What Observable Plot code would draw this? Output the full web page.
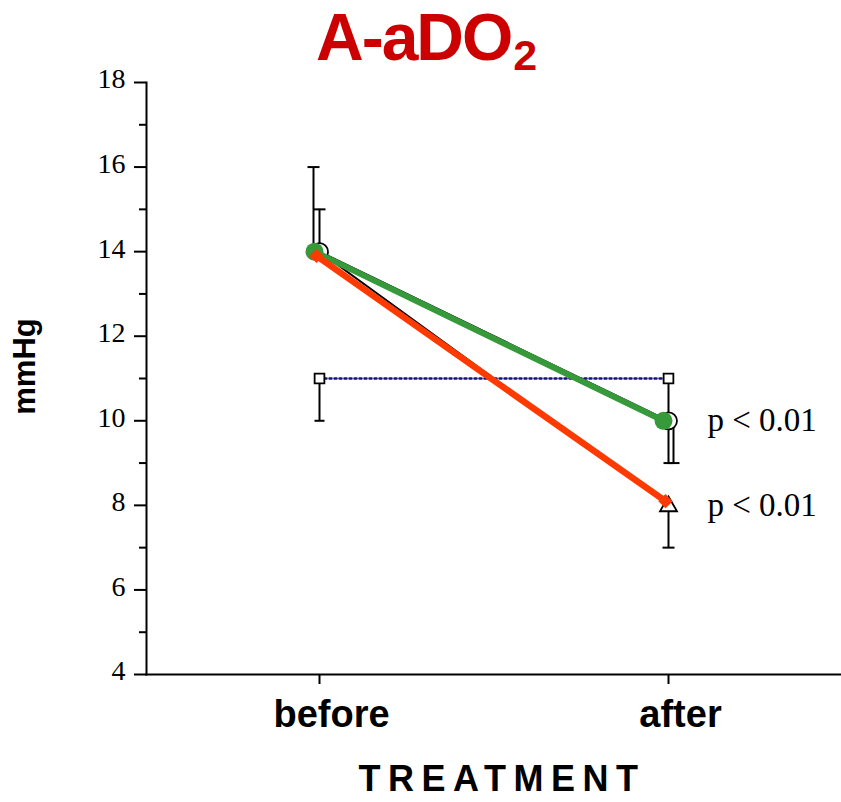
<!DOCTYPE html>
<html>
<head>
<meta charset="utf-8">
<script src="https://cdn.jsdelivr.net/npm/d3@7"></script>
<script src="https://cdn.jsdelivr.net/npm/@observablehq/plot@0.6"></script>
<style>
  html, body { margin: 0; padding: 0; background: white; }
  #wrap { position: relative; width: 841px; height: 802px; overflow: hidden; }
  #title { position: absolute; left: 316px; top: 4px; font-family: "Liberation Sans", Arial, sans-serif;
           font-weight: bold; font-size: 66px; line-height: 66px; color: #cc0000; letter-spacing: -2px; white-space: nowrap; }
  #title span { font-size: 43px; vertical-align: -10px; letter-spacing: 0; margin-left: 2px; }
  #chart { position: absolute; left: 0; top: 0; }
</style>
</head>
<body>
<div id="wrap">
  <div id="chart"></div>
  <div id="title">A-aDO<span>2</span></div>
</div>
<script>
// ---- data ----
const treatment = ["before", "after"];
const filledCircle = [14.0, 10.0];   // green filled circles
const diamond = [13.9, 8.1];          // red diamonds
const openCircle = [14.0, 10.0];      // open circles
const openTriangle = [14.0, 8.0];     // open triangles
const openSquare = [11.0, 11.0];      // open squares (dotted line)
// error bar ends (null = none)
const filledCircleErr = [16, null];
const openCircleErr = [15, 9];
const openTriangleErr = [null, 7];
const openSquareErr = [10, 9];
const pLabels = ["p < 0.01", "p < 0.01"];
const pLabelY = [10, 8];
const yMajor = [4, 6, 8, 10, 12, 14, 16, 18];
const yMinor = [5, 7, 9, 11, 13, 15, 17];

const rows = (vals, err) => treatment.map((t, i) => ({t, v: vals[i], e: err ? err[i] : null}));
const errRows = (vals, err) => rows(vals, err).filter(d => d.e != null);

const GREEN = "#36993a", RED = "#ff3a00", NAVY = "#12127a";
const serif = "'Liberation Serif', 'Times New Roman', serif";
const sans = "'Liberation Sans', Arial, sans-serif";

// horizontal-line symbol for error bar caps
const capSymbol = {
  draw(context, size) {
    const w = Math.sqrt(size / Math.PI);
    context.moveTo(-w, 0);
    context.lineTo(w, 0);
  }
};

function errMarks(data, dx, cap = 6) {
  return [
    Plot.ruleX(data, {x: "t", y1: "v", y2: "e", stroke: "black", strokeWidth: 2, dx}),
    Plot.dot(data, {x: "t", y: "e", symbol: capSymbol, r: cap, fill: "none", stroke: "black", strokeWidth: 2, dx})
  ];
}

const ocErr = errRows(openCircle, openCircleErr);

const chart = Plot.plot({
  width: 841,
  height: 802,
  marginLeft: 146,
  marginRight: 0,
  marginTop: 82,
  marginBottom: 128,
  style: {background: "white", color: "black", overflow: "visible"},
  x: {type: "point", domain: treatment, padding: 0.493, align: 0.5},
  y: {domain: [4, 18]},
  marks: [
    Plot.frame({anchor: "left", stroke: "black", strokeWidth: 2}),
    Plot.frame({anchor: "bottom", stroke: "black", strokeWidth: 2}),
    Plot.axisY({ticks: yMajor, tickSize: 12, strokeWidth: 2, text: null, label: null}),
    Plot.axisY({ticks: yMajor, tickSize: 0, tickPadding: 21, dy: -3, fontSize: 28, fontFamily: serif, label: null}),
    Plot.axisY({ticks: yMinor, tickSize: 7, strokeWidth: 2, tickFormat: () => "", label: null}),
    Plot.axisX({tickSize: 10, strokeWidth: 2, tickFormat: () => "", label: null}),
    Plot.axisX({tickSize: 0, tickPadding: 26, fontSize: 38, fontWeight: "bold", fontFamily: sans, dx: 12, label: null}),
    Plot.text(["TREATMENT"], {frameAnchor: "bottom", dy: 116, dx: 8, fontSize: 36, fontWeight: "bold", fontFamily: sans, className: "xlabel"}),
    Plot.text(["mmHg"], {frameAnchor: "left", textAnchor: "middle", dx: -121, dy: -12, rotate: -90, fontSize: 31, fontWeight: "bold", fontFamily: sans}),
    // black lines of the open-symbol series
    Plot.line(rows(openTriangle), {x: "t", y: "v", stroke: "black", strokeWidth: 2}),
    Plot.line(rows(openCircle), {x: "t", y: "v", stroke: "black", strokeWidth: 2}),
    Plot.line(rows(openSquare), {x: "t", y: "v", stroke: NAVY, strokeWidth: 2.5, strokeDasharray: "2,3"}),
    // error bars
    ...errMarks(errRows(filledCircle, filledCircleErr), -6),
    ...errMarks(ocErr.filter(d => d.t === "before"), 0),
    ...errMarks(ocErr.filter(d => d.t === "after"), 5),
    ...errMarks(errRows(openSquare, openSquareErr), 0, 5),
    ...errMarks(errRows(openTriangle, openTriangleErr), 0),
    // open markers
    Plot.dot(rows(openSquare), {x: "t", y: "v", symbol: "square", r: 5.5, fill: "white", stroke: "black", strokeWidth: 1.8}),
    Plot.dot(rows(openTriangle), {x: "t", y: "v", symbol: "triangle", r: 6.3, fill: "white", stroke: "black", strokeWidth: 1.8, dy: 1}),
    Plot.dot(rows(openCircle), {x: "t", y: "v", r: 8.5, fill: "white", stroke: "black", strokeWidth: 1.8}),
    // coloured series
    Plot.line(rows(filledCircle), {x: "t", y: "v", stroke: GREEN, strokeWidth: 6, dx: -5}),
    Plot.line(rows(diamond), {x: "t", y: "v", stroke: RED, strokeWidth: 6.5, dx: -3}),
    Plot.dot(rows(filledCircle), {x: "t", y: "v", r: 9, fill: GREEN, dx: -5}),
    Plot.dot(rows(diamond), {x: "t", y: "v", symbol: "diamond2", r: 6.5, fill: RED, dx: -3}),
    // annotations
    Plot.text(pLabels, {x: () => "after", y: (d, i) => pLabelY[i], text: d => d, dx: 39, textAnchor: "start", fontSize: 33, fontFamily: serif})
  ]
});

d3.select(chart).selectAll(".xlabel text").style("letter-spacing", "7.5px");
document.getElementById("chart").appendChild(chart);
</script>
</body>
</html>
